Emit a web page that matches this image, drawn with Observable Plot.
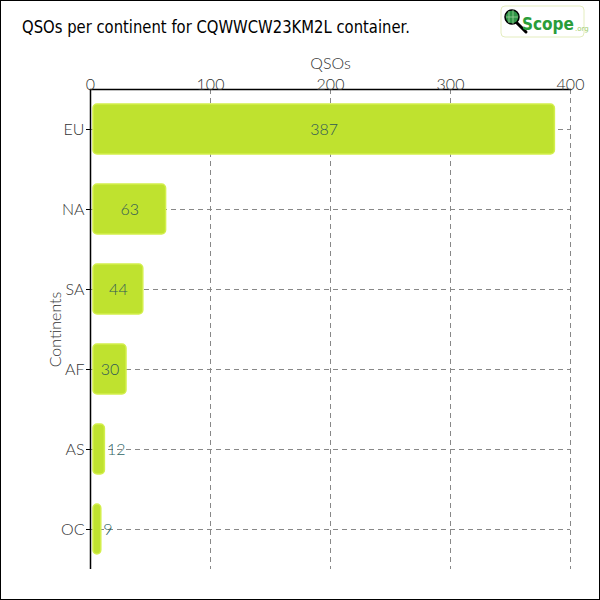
<!DOCTYPE html>
<html><head><meta charset="utf-8">
<script src="https://cdn.jsdelivr.net/npm/d3@7"></script>
<script src="https://cdn.jsdelivr.net/npm/@observablehq/plot@0.6"></script>
<style>
body{margin:0;background:#fff}
#wrap{position:relative;width:600px;height:600px;overflow:hidden;background:#fff}
#frame{position:absolute;left:0;top:0;width:600px;height:600px;box-sizing:border-box;border:1px solid #000;pointer-events:none}
#head{display:block}
#chart svg{display:block}
</style></head><body>
<div id="wrap">
<svg id="head" width="600" height="50" xmlns="http://www.w3.org/2000/svg">
  <text x="22" y="33" font-family="DejaVu Sans" font-size="17" fill="#000" textLength="388" lengthAdjust="spacingAndGlyphs">QSOs per continent for CQWWCW23KM2L container.</text>
  <g>
    <rect x="501" y="6" width="83" height="31" rx="4" fill="#fff" stroke="#e4edbf" stroke-width="1"/>
    <line x1="516" y1="22" x2="526" y2="32" stroke="#000" stroke-width="3" stroke-linecap="round"/>
    <circle cx="512" cy="17" r="7" fill="#2f9446" stroke="#000" stroke-width="1.5"/>
    <line x1="509" y1="11" x2="509" y2="23" stroke="#9fd39a" stroke-width="0.8"/>
    <line x1="513" y1="10" x2="513" y2="24" stroke="#9fd39a" stroke-width="0.8"/>
    <line x1="506" y1="17" x2="518" y2="17" stroke="#9fd39a" stroke-width="0.8"/>
    <text x="522" y="30" font-family="DejaVu Sans Condensed, DejaVu Sans"><tspan font-weight="bold" font-size="17" fill="#2a9d3a">Scope</tspan><tspan dx="1" dy="1" font-family="DejaVu Sans" font-size="7" fill="#9ccc6c">.org</tspan></text>
  </g>
</svg>
<div id="chart"></div>
<div id="frame"></div>
</div>
<script>
const continents = ["EU", "NA", "SA", "AF", "AS", "OC"];
const qsos = [387, 63, 44, 30, 12, 9];
const xTicks = [0, 100, 200, 300, 400];
const xLabel = "QSOs";
const yLabel = "Continents";

const data = continents.map((c, i) => ({continent: c, qsos: qsos[i]}));
const insideMin = 20;

const plot = Plot.plot({
  width: 600,
  height: 550,
  marginLeft: 90,
  marginRight: 30,
  marginTop: 39,
  marginBottom: 31,
  style: {fontFamily: "Lato, 'Open Sans', sans-serif", fontSize: "16px", fontWeight: 300, color: "#333", background: "transparent"},
  x: {domain: [xTicks[0], xTicks[xTicks.length - 1]], axis: null},
  y: {domain: continents, paddingInner: 0.375, paddingOuter: 0.1875, axis: null},
  marks: [
    Plot.ruleX(xTicks.slice(1), {stroke: "#888", strokeDasharray: "5,4", strokeWidth: 1}),
    Plot.ruleY(continents, {y: d => d, stroke: "#888", strokeDasharray: "5,4", strokeWidth: 1}),
    Plot.barX(data, {x: "qsos", y: "continent", fill: "#bfe22f", stroke: "#d3ef4b", strokeWidth: 1.5, rx: 4, insetLeft: 3}),
    Plot.text(data.filter(d => d.qsos >= insideMin), {x: d => d.qsos / 2, y: "continent", text: d => String(d.qsos), fill: "#2f5856", dx: 1.5, fontSize: 16}),
    Plot.text(data.filter(d => d.qsos < insideMin), {x: "qsos", y: "continent", text: d => String(d.qsos), fill: "#2f6666", textAnchor: "start", dx: 2, fontSize: 16}),
    Plot.frame({anchor: "top", stroke: "#000", strokeWidth: 1.5}),
    Plot.ruleX([0], {stroke: "#000", strokeWidth: 1.5}),
    Plot.axisX({anchor: "top", ticks: xTicks, tickSize: 0, tickPadding: 0, label: xLabel, labelAnchor: "center", labelArrow: "none", labelOffset: 32, fill: "#333"}),
    Plot.axisY({anchor: "left", tickSize: 4, tickPadding: 2, stroke: "#000", label: yLabel, labelAnchor: "center", labelArrow: "none", labelOffset: 41, fill: "#333"})
  ]
});
document.getElementById("chart").appendChild(plot);
</script>
</body></html>
